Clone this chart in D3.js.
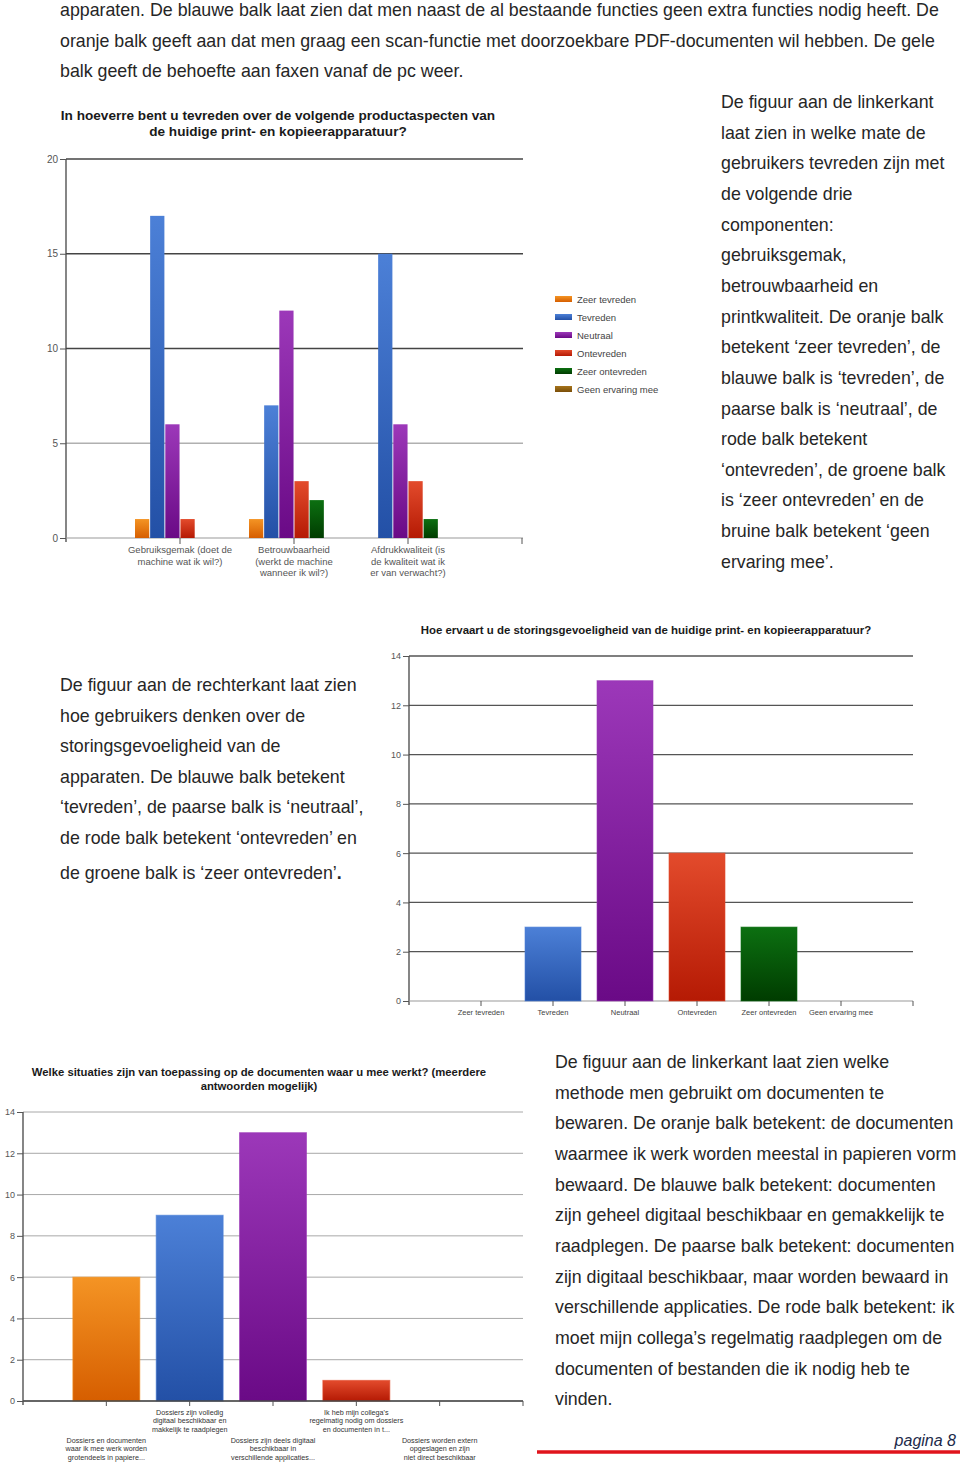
<!DOCTYPE html>
<html><head><meta charset="utf-8">
<script src="https://cdn.jsdelivr.net/npm/d3@7"></script>
<style>
html,body{margin:0;padding:0;background:#fff;}
svg{display:block;font-family:"Liberation Sans",Arial,sans-serif;}
</style></head>
<body>
<svg id="page" width="960" height="1468"></svg>
<script>
// ---------- DATA ----------
const series1 = ["Zeer tevreden","Tevreden","Neutraal","Ontevreden","Zeer ontevreden","Geen ervaring mee"];
const categories1 = [["Gebruiksgemak (doet de","machine wat ik wil?)"],["Betrouwbaarheid","(werkt de machine","wanneer ik wil?)"],["Afdrukkwaliteit (is","de kwaliteit wat ik","er van verwacht?)"]];
const gebruiksgemak = [1,17,6,1,0,0];
const betrouwbaarheid = [1,7,12,3,2,0];
const afdrukkwaliteit = [0,15,6,3,1,0];
const ticks1 = [0,5,10,15,20];

const categories2 = ["Zeer tevreden","Tevreden","Neutraal","Ontevreden","Zeer ontevreden","Geen ervaring mee"];
const values2 = [0,3,13,6,3,0];
const ticks2 = [0,2,4,6,8,10,12,14];

const categories3 = [
  ["Dossiers en documenten","waar ik mee werk worden","grotendeels in papiere..."],
  ["Dossiers zijn volledig","digitaal beschikbaar en","makkelijk te raadplegen"],
  ["Dossiers zijn deels digitaal","beschikbaar in","verschillende applicaties..."],
  ["Ik heb mijn collega's","regelmatig nodig om dossiers","en documenten in t..."],
  ["Dossiers worden extern","opgeslagen en zijn","niet direct beschikbaar"]];
const values3 = [6,9,13,1,0];
const ticks3 = [0,2,4,6,8,10,12,14];

const title1 = ["In hoeverre bent u tevreden over de volgende productaspecten van","de huidige print- en kopieerapparatuur?"];
const title2 = ["Hoe ervaart u de storingsgevoeligheid van de huidige print- en kopieerapparatuur?"];
const title3 = ["Welke situaties zijn van toepassing op de documenten waar u mee werkt? (meerdere","antwoorden mogelijk)"];

const topText = ["apparaten. De blauwe balk laat zien dat men naast de al bestaande functies geen extra functies nodig heeft. De",
"oranje balk geeft aan dat men graag een scan-functie met doorzoekbare PDF-documenten wil hebben. De gele",
"balk geeft de behoefte aan faxen vanaf de pc weer."];
const text1 = ["De figuur aan de linkerkant","laat zien in welke mate de","gebruikers tevreden zijn met","de volgende drie","componenten:","gebruiksgemak,","betrouwbaarheid en","printkwaliteit. De oranje balk","betekent ‘zeer tevreden’, de","blauwe balk is ‘tevreden’, de","paarse balk is ‘neutraal’, de","rode balk betekent","‘ontevreden’, de groene balk","is ‘zeer ontevreden’ en de","bruine balk betekent ‘geen","ervaring mee’."];
const text2 = ["De figuur aan de rechterkant laat zien","hoe gebruikers denken over de","storingsgevoeligheid van de","apparaten. De blauwe balk betekent","‘tevreden’, de paarse balk is ‘neutraal’,","de rode balk betekent ‘ontevreden’ en","de groene balk is ‘zeer ontevreden’"];
const text3 = ["De figuur aan de linkerkant laat zien welke","methode men gebruikt om documenten te","bewaren. De oranje balk betekent: de documenten","waarmee ik werk worden meestal in papieren vorm","bewaard. De blauwe balk betekent: documenten","zijn geheel digitaal beschikbaar en gemakkelijk te","raadplegen. De paarse balk betekent: documenten","zijn digitaal beschikbaar, maar worden bewaard in","verschillende applicaties. De rode balk betekent: ik","moet mijn collega’s regelmatig raadplegen om de","documenten of bestanden die ik nodig heb te","vinden."];
const footerText = "pagina 8";

// ---------- STYLE ----------
const gradColors = [
  ["#f49424","#d65e00"], // orange
  ["#4c80d7","#2350a6"], // blue
  ["#9c38b9","#6a0a86"], // purple
  ["#e34b2c","#b51a04"], // red
  ["#0c7011","#003c00"], // green
  ["#a6741c","#7a4e08"]  // brown
];
const svg = d3.select("#page");
const defs = svg.append("defs");
gradColors.forEach((c,i)=>{
  const g = defs.append("linearGradient").attr("id","g"+i).attr("x1",0).attr("y1",0).attr("x2",0).attr("y2",1);
  g.append("stop").attr("offset","0%").attr("stop-color",c[0]);
  g.append("stop").attr("offset","100%").attr("stop-color",c[1]);
});
const textColor = "#262626";
const bodySize = 17.8;

function para(lines, x, y0, lh, size){
  const t = svg.append("g").attr("fill",textColor).attr("font-size",size);
  lines.forEach((l,i)=>t.append("text").attr("x",x).attr("y",y0+i*lh).text(l));
  return t;
}
para(topText, 60, 16, 30.6, bodySize);
para(text1, 721, 108, 30.65, bodySize);
const p2 = para(text2, 60, 691, 30.6, bodySize);
p2.select("text:last-child").attr("y", 879).append("tspan").attr("font-weight","bold").text(".");
para(text3, 555, 1068, 30.65, bodySize);

// footer
svg.append("text").attr("x",956).attr("y",1446).attr("text-anchor","end").attr("font-style","italic")
  .attr("font-size",16).attr("fill","#1c2a4a").text(footerText);
svg.append("line").attr("x1",537).attr("x2",960).attr("y1",1452).attr("y2",1452).attr("stroke","#e0141c").attr("stroke-width",3.5);

function titleLines(lines, cx, y0, lh, size){
  const t = svg.append("g").attr("font-weight","bold").attr("font-size",size).attr("fill","#1a1a1a").attr("text-anchor","middle");
  lines.forEach((l,i)=>t.append("text").attr("x",cx).attr("y",y0+i*lh).text(l));
}

function yAxis(y, x0, x1, ticks, opts){
  const g = svg.append("g");
  g.selectAll("line.grid").data(ticks.filter(d=>d>0)).join("line")
    .attr("x1",x0).attr("x2",x1).attr("y1",d=>y(d)).attr("y2",d=>y(d))
    .attr("stroke",d=>opts.gridColor(d)).attr("stroke-width",opts.gridW);
  const ax = svg.append("g").attr("transform",`translate(${x0},0)`)
    .call(d3.axisLeft(y).tickValues(ticks).tickSize(opts.tick).tickPadding(2));
  ax.select(".domain").attr("stroke","#444").attr("stroke-width",1.3).attr("d",`M0,${y.range()[0]+4}V${y.range()[1]}`);
  ax.selectAll(".tick line").attr("stroke","#555");
  ax.selectAll(".tick text").attr("fill","#555").attr("font-size",opts.font).attr("font-family","Liberation Sans, Arial, sans-serif");
  svg.append("line").attr("x1",x0).attr("x2",x1).attr("y1",y(0)).attr("y2",y(0)).attr("stroke","#999").attr("stroke-width",1);
}

// ---------- CHART 1 ----------
titleLines(title1, 278, 120, 16, 13.6);
const y1 = d3.scaleLinear().domain([0,20]).range([538,159]);
const x1 = d3.scalePoint().domain(d3.range(categories1.length)).range([66,522]).padding(1);
const xs1 = d3.scaleBand().domain(series1).range([-45,45]).paddingInner(0.06);
yAxis(y1, 66, 523, ticks1, {gridColor:d=>d===5?"#b0b0b0":"#444", gridW:1.3, tick:6, font:10});
const data1 = [gebruiksgemak, betrouwbaarheid, afdrukkwaliteit];
data1.forEach((vals,ci)=>{
  svg.append("g").selectAll("rect").data(vals.map((v,i)=>({v,i}))).join("rect")
    .attr("x",d=>x1(ci)+xs1(series1[d.i])).attr("width",xs1.bandwidth())
    .attr("y",d=>y1(d.v)).attr("height",d=>y1(0)-y1(d.v))
    .attr("fill",d=>`url(#g${d.i})`);
});
const xt1 = svg.append("g");
categories1.forEach((lines,ci)=>{
  xt1.append("line").attr("x1",x1(ci)).attr("x2",x1(ci)).attr("y1",538).attr("y2",544).attr("stroke","#555");
  lines.forEach((l,li)=>xt1.append("text").attr("x",x1(ci)).attr("y",553+li*11.5).attr("text-anchor","middle")
    .attr("font-size",9.5).attr("fill","#555").text(l));
});
xt1.append("line").attr("x1",522).attr("x2",522).attr("y1",538).attr("y2",544).attr("stroke","#555");
const leg = svg.append("g");
series1.forEach((s,i)=>{
  leg.append("rect").attr("x",555).attr("y",296+i*18).attr("width",17).attr("height",6).attr("fill",`url(#g${i})`);
  leg.append("text").attr("x",577).attr("y",302.5+i*18).attr("font-size",9.5).attr("fill","#444").text(s);
});

// ---------- CHART 2 ----------
titleLines(title2, 646, 634, 14, 11.45);
const y2 = d3.scaleLinear().domain([0,14]).range([1001,656]);
const x2 = d3.scalePoint().domain(categories2).range([409,913]).padding(1);
yAxis(y2, 409, 913, ticks2, {gridColor:()=> "#555", gridW:1.3, tick:6, font:9});
svg.append("g").selectAll("rect").data(values2.map((v,i)=>({v,i}))).join("rect")
  .attr("x",d=>x2(categories2[d.i])-28).attr("width",56)
  .attr("y",d=>y2(d.v)).attr("height",d=>y2(0)-y2(d.v))
  .attr("fill",d=>`url(#g${d.i})`).attr("stroke",d=>gradColors[d.i][0]).attr("stroke-opacity",0.6).attr("stroke-width",d=>d.v>0?1:0);
const xt2 = svg.append("g");
categories2.forEach(c=>{
  xt2.append("line").attr("x1",x2(c)).attr("x2",x2(c)).attr("y1",1001).attr("y2",1006).attr("stroke","#555");
  xt2.append("text").attr("x",x2(c)).attr("y",1015).attr("text-anchor","middle").attr("font-size",7.5).attr("fill","#444").text(c);
});
xt2.append("line").attr("x1",913).attr("x2",913).attr("y1",1001).attr("y2",1006).attr("stroke","#555");

// ---------- CHART 3 ----------
titleLines(title3, 259, 1076, 14, 11.3);
const y3 = d3.scaleLinear().domain([0,14]).range([1401,1112]);
const x3 = d3.scalePoint().domain(d3.range(categories3.length)).range([23,523]).padding(1);
yAxis(y3, 23, 523, ticks3, {gridColor:()=> "#a8a8a8", gridW:1, tick:6, font:9});
svg.append("g").selectAll("rect").data(values3.map((v,i)=>({v,i}))).join("rect")
  .attr("x",d=>x3(d.i)-33.5).attr("width",67)
  .attr("y",d=>y3(d.v)).attr("height",d=>y3(0)-y3(d.v))
  .attr("fill",d=>`url(#g${d.i})`).attr("stroke",d=>gradColors[d.i][0]).attr("stroke-opacity",0.6).attr("stroke-width",d=>d.v>0?1:0);
svg.append("line").attr("x1",23).attr("x2",523).attr("y1",1401).attr("y2",1401).attr("stroke","#444").attr("stroke-width",1.3);
const xt3 = svg.append("g");
categories3.forEach((lines,ci)=>{
  xt3.append("line").attr("x1",x3(ci)).attr("x2",x3(ci)).attr("y1",1401).attr("y2",1406).attr("stroke","#555");
  const base = ci%2===0 ? 1443 : 1415;
  lines.forEach((l,li)=>xt3.append("text").attr("x",x3(ci)).attr("y",base+li*8.3).attr("text-anchor","middle")
    .attr("font-size",7.2).attr("fill","#333").text(l));
});
xt3.append("line").attr("x1",523).attr("x2",523).attr("y1",1401).attr("y2",1406).attr("stroke","#555");
</script>
</body></html>
